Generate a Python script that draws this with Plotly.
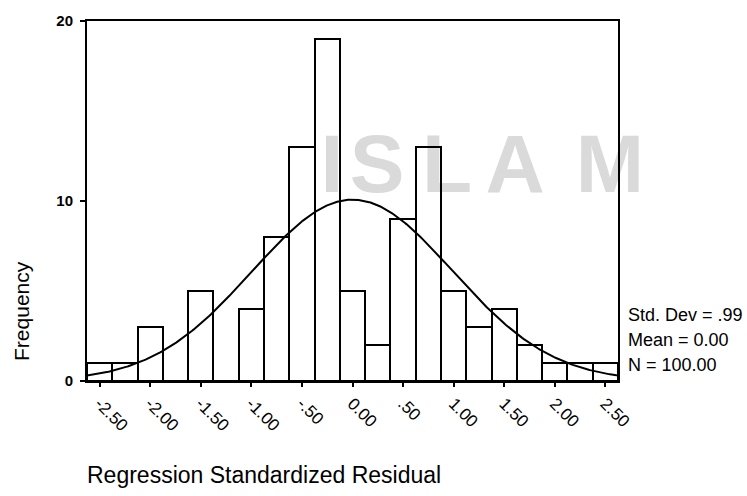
import numpy as np
import plotly.graph_objects as go

# ---- data ----
bin_centers = [-2.50, -2.25, -2.00, -1.75, -1.50, -1.25, -1.00, -0.75, -0.50, -0.25,
               0.00, 0.25, 0.50, 0.75, 1.00, 1.25, 1.50, 1.75, 2.00, 2.25, 2.50]
frequencies = [1, 1, 3, 0, 5, 0, 4, 8, 13, 19,
               5, 2, 9, 13, 5, 3, 4, 2, 1, 1, 1]
tick_vals = [-2.5, -2.0, -1.5, -1.0, -0.5, 0.0, 0.5, 1.0, 1.5, 2.0, 2.5]
tick_text = ["-2.50", "-2.00", "-1.50", "-1.00", "-.50", "0.00", ".50", "1.00", "1.50", "2.00", "2.50"]
y_ticks = [0, 10, 20]
stats_lines = ["Std. Dev = .99", "Mean = 0.00", "N = 100.00"]
std_dev = 0.99
mean = 0.0
n_total = 100
bin_width = 0.25
x_range = [-2.625, 2.625]

# ---- layout geometry (pixels) ----
W, H = 747, 496
ML, MR, MT, MB = 87, 129, 16, 115
PW, PH = W - ML - MR, H - MT - MB


def px(xp):
    return (xp - ML) / PW


def py(yp):
    return (H - MB - yp) / PH


FONT = "Arial, 'Liberation Sans', sans-serif"

fig = go.Figure()

fig.add_trace(go.Bar(
    x=bin_centers, y=frequencies, width=bin_width,
    marker=dict(color="rgba(0,0,0,0)", line=dict(color="black", width=2)),
    showlegend=False, hoverinfo="x+y",
))

# fitted normal curve from the stated mean / std. dev / N
xc = np.linspace(x_range[0], x_range[1], 400)
yc = n_total * bin_width / (std_dev * np.sqrt(2 * np.pi)) * np.exp(-0.5 * ((xc - mean) / std_dev) ** 2)
fig.add_trace(go.Scatter(x=xc, y=yc, mode="lines", line=dict(color="black", width=2),
                         showlegend=False, hoverinfo="skip"))

annotations = []
# y title
annotations.append(dict(text="Frequency", textangle=-90, xref="paper", yref="paper",
                        x=px(22), y=py(310), xanchor="center", yanchor="middle",
                        showarrow=False, font=dict(family=FONT, size=21, color="black")))
# x title
annotations.append(dict(text="Regression Standardized Residual", xref="paper", yref="paper",
                        x=px(85), y=py(476), xanchor="left", yanchor="middle",
                        showarrow=False, font=dict(family=FONT, size=23, color="black")))
# stats
for txt, yy in zip(stats_lines, [314, 339, 365]):
    annotations.append(dict(text=txt, xref="paper", yref="paper", x=px(626), y=py(yy),
                            xanchor="left", yanchor="middle", showarrow=False,
                            font=dict(family=FONT, size=18, color="black")))

# faint background watermark letters (below the data)
shapes = []
for letter, cx in zip("ISLAM", [332, 377, 447, 515, 610]):
    shapes.append(dict(type="rect", xref="paper", yref="paper", layer="below",
                       x0=px(cx - 30), x1=px(cx + 30), y0=py(187), y1=py(117),
                       line=dict(width=0), fillcolor="rgba(0,0,0,0)",
                       label=dict(text=letter, font=dict(family=FONT, size=82, color="#dadada",
                                                         weight="bold"),
                                  textposition="middle center")))

fig.update_layout(
    width=W, height=H,
    margin=dict(l=ML, r=MR, t=MT, b=MB),
    paper_bgcolor="white", plot_bgcolor="rgba(0,0,0,0)",
    bargap=0,
    font=dict(family=FONT, color="black"),
    annotations=annotations,
    shapes=shapes,
    xaxis=dict(range=x_range, tickvals=tick_vals, ticktext=tick_text, tickangle=45,
               showgrid=False, zeroline=False, showline=True, linecolor="black", linewidth=2,
               mirror=True, ticks="outside", ticklen=4, tickwidth=1.5, tickcolor="black",
               tickfont=dict(family=FONT, size=17, color="black")),
    yaxis=dict(range=[0, 20], tickvals=y_ticks, showgrid=False, zeroline=False,
               showline=True, linecolor="black", linewidth=2, mirror=True,
               ticks="outside", ticklen=5, tickwidth=1.5, tickcolor="black",
               ticklabelstandoff=4,
               tickfont=dict(family=FONT, size=15, color="black", weight="bold")),
)

fig.write_html("out.html")
